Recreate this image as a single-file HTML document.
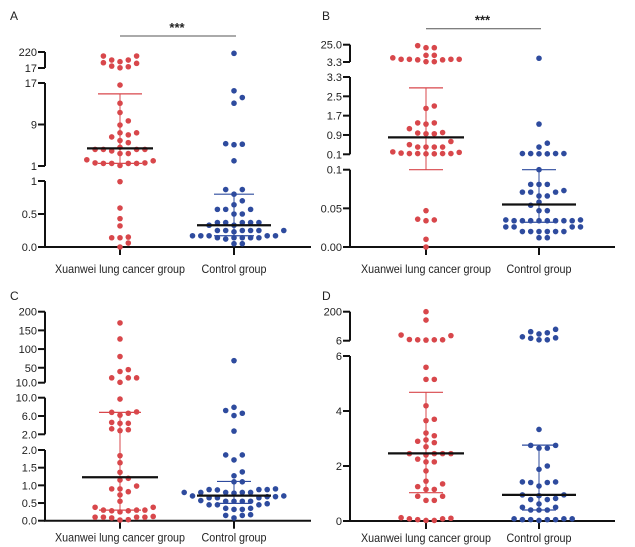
<!DOCTYPE html>
<html><head><meta charset="utf-8">
<style>
html,body{margin:0;padding:0;background:#fff;}
svg{display:block;font-family:"Liberation Sans",sans-serif;}
</style></head>
<body>
<svg id="fig" width="635" height="547" viewBox="0 0 635 547" xmlns="http://www.w3.org/2000/svg"></svg>
<script>
// ---- Data ----
const categories = ["Xuanwei lung cancer group", "Control group"];
const panelLabels = ["A", "B", "C", "D"];

const aRed = [169,169,118,118,97,76,84,33,20,41,16.6,13.1,11.3,9.7,8.9,7.4,7.4,7.0,6.6,5.5,5.9,4.2,4.2,4.2,4.2,4.6,3.4,3.4,3.9,2.2,1.5,1.5,1.5,1.6,1.5,1.6,1.1,2.0,0.99,0.59,0.43,0.32,0.14,0.15,0.14,0.06,0.0];
const aBlue = [203,15.5,14.2,13.1,5.1,5.2,5.3,2.0,0.87,0.87,0.8,0.7,0.64,0.57,0.57,0.57,0.5,0.5,0.37,0.37,0.37,0.37,0.37,0.33,0.33,0.25,0.25,0.25,0.25,0.23,0.25,0.25,0.17,0.17,0.14,0.14,0.14,0.17,0.14,0.12,0.14,0.17,0.17,0.05,0.05];
const bRed = [23.8,21.2,21.2,11.7,11.7,6.7,6.7,6.7,6.7,6.0,6.0,8.5,3.7,3.7,2.1,2.0,1.4,1.4,1.35,1.16,1.0,0.95,0.95,0.98,0.63,0.5,0.4,0.4,0.4,0.4,0.2,0.13,0.18,0.13,0.13,0.13,0.15,0.12,0.12,0.047,0.035,0.036,0.034,0.01,0.0];
const bBlue = [8.0,1.35,0.56,0.4,0.13,0.13,0.12,0.12,0.13,0.13,0.1,0.081,0.081,0.081,0.071,0.071,0.073,0.071,0.066,0.066,0.058,0.054,0.047,0.047,0.035,0.034,0.034,0.034,0.034,0.034,0.034,0.034,0.035,0.034,0.026,0.026,0.026,0.026,0.02,0.02,0.02,0.02,0.02,0.02,0.012,0.012];
const cRed = [170,127,80,45,40,23,23,23,11,9.7,6.8,6.9,6.2,6.6,4.4,4.4,4.6,3.0,3.2,2.8,1.84,1.64,1.37,1.2,1.15,0.9,0.82,0.9,0.98,0.73,0.55,0.38,0.38,0.3,0.3,0.28,0.3,0.28,0.25,0.12,0.1,0.1,0.1,0.08,0.1,0.03,0.02];
const cBlue = [69,7.9,7.2,6.6,6.1,2.7,1.86,1.86,1.72,1.38,1.27,1.1,1.1,0.9,0.88,0.88,0.88,0.87,0.8,0.8,0.8,0.8,0.8,0.78,0.68,0.7,0.65,0.7,0.68,0.65,0.65,0.55,0.55,0.57,0.55,0.55,0.45,0.48,0.32,0.32,0.45,0.45,0.35,0.35,0.15,0.17,0.15,0.08];
const dRed = [200,144,44,40,14,12,12,10,12,5.59,5.15,5.15,4.19,3.7,3.65,3.1,3.2,2.9,2.95,2.85,2.7,2.45,2.45,2.4,2.45,2.45,2.15,2.15,2.25,1.82,1.45,1.35,1.15,1.25,1.15,0.9,0.75,0.75,0.9,0.02,0.1,0.08,0.12,0.05,0.08,0.02];
const dBlue = [51,22,66,82,59,32,12,12,25,3.33,2.75,2.75,2.65,2.65,2.0,1.88,1.4,1.4,1.42,1.42,1.27,0.95,0.82,0.95,0.78,0.78,0.92,0.5,0.62,0.4,0.4,0.4,0.5,0.05,0.08,0.05,0.08,0.02,0.08,0.05,0.05];

// mean, sdTop, sdBottom per group
const aStats = [[4.4,14.9,1.5],[0.33,0.8,0.17]];
const bStats = [[0.8,2.85,0.1],[0.055,0.1,0.032]];
const cStats = [[1.23,6.8,0.3],[0.71,1.11,0.49]];
const dStats = [[2.46,4.68,1.03],[0.95,2.76,0.4]];

// tick labels per segment [value,label]
const aTicks = [[[220,"220"],[17,"17"]],[[17,"17"],[9,"9"],[1,"1"]],[[1,"1"],[0.5,"0.5"],[0,"0.0"]]];
const bTicks = [[[25,"25.0"],[3.3,"3.3"]],[[3.3,"3.3"],[2.5,"2.5"],[1.7,"1.7"],[0.9,"0.9"],[0.1,"0.1"]],[[0.1,"0.1"],[0.05,"0.05"],[0,"0.00"]]];
const cTicks = [[[200,"200"],[150,"150"],[100,"100"],[50,"50"],[10,"10.0"]],[[10,"10.0"],[6,"6.0"],[2,"2.0"]],[[2,"2.0"],[1.5,"1.5"],[1,"1.0"],[0.5,"0.5"],[0,"0.0"]]];
const dTicks = [[[200,"200"],[6,"6"]],[[6,"6"],[4,"4"],[2,"2"],[0,"0"]]];

// ---- Layout (non-data) ----
const panels = [
 {ax:45, xEnd:311, base:247, lab:26, gx:[120,234], mh:[33,37], cap:[22,20], sig:true, lx:10, ly:20,
  segs:[{hi:220,lo:17,y0:52,y1:68},{hi:17,lo:1,y0:83,y1:166},{hi:1,lo:0,y0:181,y1:247}], ticks:aTicks, red:aRed, blue:aBlue, stats:aStats},
 {ax:350, xEnd:615, base:247, lab:26, gx:[426,539], mh:[38,37], cap:[17,17], sig:true, lx:322, ly:20,
  segs:[{hi:25,lo:3.3,y0:44.7,y1:62},{hi:3.3,lo:0.1,y0:77,y1:154.3},{hi:0.1,lo:0,y0:169.7,y1:247}], ticks:bTicks, red:bRed, blue:bBlue, stats:bStats},
 {ax:45, xEnd:311, base:520.7, lab:21, gx:[120,234], mh:[38,37], cap:[21,17], sig:false, lx:10, ly:300,
  segs:[{hi:200,lo:10,y0:311.7,y1:382.7},{hi:10,lo:2,y0:397.7,y1:434.3},{hi:2,lo:0,y0:450,y1:520.7}], ticks:cTicks, red:cRed, blue:cBlue, stats:cStats},
 {ax:350, xEnd:615, base:521, lab:21, gx:[426,539], mh:[38,37], cap:[17,17], sig:false, lx:322, ly:300,
  segs:[{hi:200,lo:6,y0:311.7,y1:340.7},{hi:6,lo:0,y0:356,y1:521}], ticks:dTicks, red:dRed, blue:dBlue, stats:dStats}
];
const labelWidths=[130,65];
const RED="#d8474b", BLUE="#2e4b9e";
const svg=document.getElementById('fig');
const NS="http://www.w3.org/2000/svg";
function mk(tag,attrs,parent){const e=document.createElementNS(NS,tag);for(const k in attrs)e.setAttribute(k,attrs[k]);(parent||svg).appendChild(e);return e;}

function yScale(p,v){
  const s=p.segs;
  for(let i=s.length-1;i>=0;i--){const g=s[i]; if(v<=g.hi||i===0){return g.y0+(g.hi-Math.min(v,g.hi))/(g.hi-g.lo)*(g.y1-g.y0);}}
}
function swarm(ys,cx){
  const idx=ys.map((y,i)=>i).sort((a,b)=>ys[b]-ys[a]);
  const placed=[],xs=new Array(ys.length);
  for(const i of idx){
    const y=ys[i];
    for(let k=0;k<30;k++){
      const off=(k%2?1:-1)*Math.ceil(k/2)*8.3;
      const x=cx+off;
      if(!placed.some(q=>(q[0]-x)**2+(q[1]-y)**2<5.8*5.8)){xs[i]=x;placed.push([x,y]);break;}
    }
  }
  return xs;
}

panels.forEach((p,pi)=>{
  const g=mk('g',{});
  
  
  const t=mk('text',{x:p.lx,y:p.ly,'font-size':12,fill:'#222'},g);t.textContent=panelLabels[pi];
  
  p.segs.forEach((s,si)=>{
    const yb=(si===p.segs.length-1)?p.base:s.y1;
    const l=mk('line',{x1:p.ax,x2:p.ax,y1:s.y0,y2:yb,stroke:'#111','stroke-width':2},g);
    
    p.ticks[si].forEach(tk=>{
      const y=yScale({segs:[s]},tk[0]);
      const tl=mk('line',{x1:p.ax-7,x2:p.ax,y1:y,y2:y,stroke:'#111','stroke-width':2},g);
      
      const tx=mk('text',{x:p.ax-8,y:y+4,'font-size':11,'text-anchor':'end',fill:'#222'},g);
      tx.textContent=tk[1];
      
    });
  });
  const xa=mk('line',{x1:p.ax-1,x2:p.xEnd,y1:p.base,y2:p.base,stroke:'#111','stroke-width':2},g);
  
  categories.forEach((c,ci)=>{
    const tl=mk('line',{x1:p.gx[ci],x2:p.gx[ci],y1:p.base,y2:p.base+8,stroke:'#111','stroke-width':2},g);
    
    const tx=mk('text',{x:p.gx[ci]-labelWidths[ci]/2,y:p.base+p.lab,'font-size':12,textLength:labelWidths[ci],lengthAdjust:'spacingAndGlyphs',fill:'#222'},g);
    tx.textContent=c;
    
  });
  if(p.sig){
    const y=p.segs[0].y0-16;
    const sl=mk('line',{x1:p.gx[0],x2:p.gx[1]+2,y1:y,y2:y,stroke:'#555','stroke-width':1},g);
    
    const st=mk('text',{x:(p.gx[0]+p.gx[1])/2,y:y-4,'font-size':13,'font-weight':'bold','text-anchor':'middle',fill:'#222'},g);
    st.textContent='***';
    
  }
  [p.red,p.blue].forEach((vals,ci)=>{
    const col=ci?BLUE:RED;
    const ys=vals.map(v=>yScale(p,v));
    const xs=swarm(ys,p.gx[ci]);
    ys.forEach((y,i)=>{
      const d=mk('circle',{cx:xs[i],cy:y,r:2.8,fill:col},g);
      
      
    });
    const st=p.stats[ci], cx=p.gx[ci];
    const yt=yScale(p,st[1]), yb=yScale(p,st[2]), ym=yScale(p,st[0]);
    const e1=mk('line',{x1:cx,x2:cx,y1:yt,y2:yb,stroke:col,'stroke-width':1},g);
    
    [yt,yb].forEach(y=>{
      const cp=mk('line',{x1:cx-p.cap[ci],x2:cx+p.cap[ci],y1:y,y2:y,stroke:col,'stroke-width':1.2},g);
      
    });
    const m=mk('line',{x1:cx-p.mh[ci],x2:cx+p.mh[ci],y1:ym,y2:ym,stroke:'#111','stroke-width':2.2},g);
    
  });
});
</script>
</body></html>
